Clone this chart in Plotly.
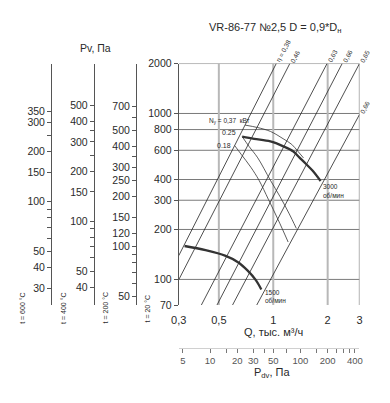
import numpy as np
import plotly.graph_objects as go

W, H = 390, 403
def px(x): return x / W
def py(y): return 1 - y / H

FONT = "Arial, Liberation Sans, sans-serif"
TXT = "#2a2a2a"

# ---------------- data ----------------
# fan curve 3000 rpm (thick)
Q_3000 = [0.673, 0.784, 0.964, 1.137, 1.287, 1.398, 1.519, 1.648, 1.828]
P_3000 = [725, 703, 678, 634, 592, 542, 496, 453, 392]
# upper thin curve (Nу = 0,37 кВт)
Q_037 = [0.699, 0.818, 0.964, 1.133, 1.266, 1.368, 1.469]
P_037 = [851, 823, 780, 705, 651, 592, 540]
# fan curve 1500 rpm (thick)
Q_1500 = [0.323, 0.422, 0.541, 0.638, 0.722, 0.801, 0.859]
P_1500 = [159, 150, 139, 127, 113, 99, 87]
# descending power curves
Q_025 = [0.673, 0.734, 0.821, 0.964, 1.091, 1.220, 1.342]
P_025 = [725, 634, 540, 396, 315, 251, 203]
Q_018 = [0.612, 0.665, 0.752, 0.834, 0.941, 1.064, 1.209]
P_018 = [640, 567, 474, 396, 303, 229, 168]

# efficiency (system) lines: low end -> high end
ETA_LABELS = ["η = 0,38", "0,46", "0,63", "0,66", "0,65", "0,66"]
ETA_Q0 = [0.30, 0.30, 0.400, 0.488, 0.595, 0.810]
ETA_P0 = [139, 99.5, 70, 70, 70, 70]
ETA_Q1 = [1.039, 1.235, 1.984, 2.406, 3.0, 3.0]
ETA_P1 = [2000, 2000, 2000, 2000, 2000, 986]

# axes
Q_RANGE = [0.3, 3]
P_RANGE = [70, 2000]
Q_TICKS = [0.3, 0.5, 1, 2, 3]
Q_TICKTEXT = ["0,3", "0,5", "1", "2", "3"]
P_TICKS = [70, 100, 200, 300, 400, 600, 800, 1000, 2000]
GRID_P = [100, 200, 300, 400, 600, 800, 1000, 2000]
GRID_Q = [0.5, 1, 2]

# temperature scales (pressure factor relative to 20 °C)
T_NAMES = ["t = 600 °C", "t = 400 °C", "t = 200 °C"]
T_FACTORS = [0.34, 0.445, 0.635]
T_MAJOR = [[350, 300, 200, 150, 100, 50, 40, 30],
           [500, 400, 300, 200, 150, 100, 50, 40],
           [700, 500, 400, 300, 250, 200, 150, 120, 100, 50]]
T_MINOR = [[250, 90, 80, 70, 60],
           [350, 250, 90, 80, 70, 60],
           [600, 350, 90, 80, 70, 60]]

# dynamic pressure scale Pdv = 50*Q^2
PDV_FACTOR = 50
PDV_LABELED = [5, 10, 20, 30, 50, 100, 200, 400]
PDV_MINOR = [15, 40, 70, 150, 250, 300, 350]

# ---------------- layout geometry (pixels) ----------------
X0, X1 = 175.7, 361.7
Y0, Y1 = 59.3, 308.3
T_AXIS_X = [44.3, 88.3, 131.7]

fig = go.Figure()

# grid
gx, gy = [], []
for p in GRID_P:
    gx += [Q_RANGE[0], Q_RANGE[1], None]; gy += [p, p, None]
fig.add_trace(go.Scatter(x=gx, y=gy, mode="lines", line=dict(color="#7a7a7a", width=1),
                         hoverinfo="skip"))
vx, vy = [], []
for q in GRID_Q:
    vx += [q, q, None]; vy += [P_RANGE[0], P_RANGE[1], None]
fig.add_trace(go.Scatter(x=vx, y=vy, mode="lines", line=dict(color="#b8b8b8", width=2),
                         hoverinfo="skip"))
fig.add_trace(go.Scatter(x=[Q_RANGE[1], Q_RANGE[1]], y=P_RANGE, mode="lines",
                         line=dict(color="#8a8a8a", width=1.3), hoverinfo="skip"))

# efficiency lines
for q0, p0, q1, p1 in zip(ETA_Q0, ETA_P0, ETA_Q1, ETA_P1):
    fig.add_trace(go.Scatter(x=[q0, q1], y=[p0, p1], mode="lines",
                             line=dict(color="#222", width=0.8), hoverinfo="skip"))

# power curves
for qs, ps in [(Q_025, P_025), (Q_018, P_018), (Q_037, P_037)]:
    fig.add_trace(go.Scatter(x=qs, y=ps, mode="lines", line=dict(color="#333", width=0.8, shape="spline"),
                             hoverinfo="skip"))
# fan curves
for qs, ps in [(Q_3000, P_3000), (Q_1500, P_1500)]:
    fig.add_trace(go.Scatter(x=qs, y=ps, mode="lines", line=dict(color="#333", width=2.3, shape="spline"),
                             hoverinfo="skip"))

# dummy traces to activate extra axes
for i in range(3):
    fig.add_trace(go.Scatter(x=[1], y=[300 * T_FACTORS[i]], xaxis="x", yaxis="y%d" % (i + 2),
                             mode="markers", marker=dict(opacity=0), hoverinfo="skip"))
fig.add_trace(go.Scatter(x=[50], y=[300], xaxis="x2", yaxis="y", mode="markers",
                         marker=dict(opacity=0), hoverinfo="skip"))

ydom = [py(Y1), py(Y0)]
axis_font = dict(family=FONT, size=10.5, color=TXT)
layout = dict(
    width=W, height=H, margin=dict(l=0, r=0, t=0, b=0),
    paper_bgcolor="white", plot_bgcolor="white", showlegend=False,
    font=dict(family=FONT, color=TXT),
    xaxis=dict(type="log", range=[np.log10(Q_RANGE[0]), np.log10(Q_RANGE[1])],
               domain=[px(X0), px(X1)], tickvals=Q_TICKS, ticktext=Q_TICKTEXT,
               showgrid=False, zeroline=False, showline=False,
               ticks="outside", ticklen=5, tickcolor="rgba(0,0,0,0)",
               tickfont=dict(family=FONT, size=11, color=TXT)),
    yaxis=dict(type="log", range=[np.log10(P_RANGE[0]), np.log10(P_RANGE[1])],
               domain=ydom, tickvals=P_TICKS, ticktext=[str(v) for v in P_TICKS],
               showgrid=False, zeroline=False, showline=True, linecolor="#555", linewidth=1,
               ticks="outside", ticklen=4, tickcolor="#555", tickfont=axis_font),
    xaxis2=dict(type="log", overlaying="x", anchor="free", position=py(352), side="bottom",
                range=[np.log10(PDV_FACTOR * Q_RANGE[0] ** 2), np.log10(PDV_FACTOR * Q_RANGE[1] ** 2)],
                tickvals=PDV_LABELED, ticktext=[str(v) for v in PDV_LABELED],
                minor=dict(tickvals=PDV_MINOR, ticks="outside", ticklen=4, tickcolor="#777",
                           showgrid=False),
                showgrid=False, zeroline=False, showline=True, linecolor="#d0d0d0",
                ticks="outside", ticklen=4, tickcolor="#777",
                tickfont=dict(family=FONT, size=9.5, color="#555")),
)
for i in range(3):
    f = T_FACTORS[i]
    layout["yaxis%d" % (i + 2)] = dict(
        type="log", overlaying="y", anchor="free", position=px(T_AXIS_X[i]), side="left",
        range=[np.log10(P_RANGE[0] * f), np.log10(P_RANGE[1] * f)],
        tickvals=T_MAJOR[i], ticktext=[str(v) for v in T_MAJOR[i]],
        minor=dict(tickvals=T_MINOR[i], ticks="outside", ticklen=4, tickcolor="#555", showgrid=False),
        showgrid=False, zeroline=False,
        showline=True, linecolor="#555", linewidth=1,
        ticks="outside", ticklen=4, tickcolor="#555", tickfont=axis_font)
fig.update_layout(**layout)

ann = []
def A(x, y, text, size=11, **kw):
    d = dict(x=px(x), y=py(y), xref="paper", yref="paper", text=text, showarrow=False,
             font=dict(family=FONT, size=size, color=TXT), xanchor="center", yanchor="middle")
    d.update(kw)
    ann.append(d)

A(275, 23, "VR-86-77 №2,5 D = 0,9*D<sub>н</sub>", size=11)
A(90.5, 43, "Pv, Па", size=10.5)
A(273, 336, "Q, тыс. м³/ч", size=11)
A(271.7, 378, "P<sub>dv</sub>, Па", size=11)
for name, xx in zip(T_NAMES + ["t = 20 °C"], [15, 57.3, 100, 143.3]):
    A(xx, 311.5, name, size=7, textangle=-90)

# curve labels
A(205, 119, "N<sub>у</sub> = 0,37  кВт", size=6.5, xanchor="left")
A(237, 130.7, "0.25", size=7, xanchor="right")
A(231.5, 144, "0.18", size=7, xanchor="right")
A(322, 186.5, "3000", size=6.5, xanchor="left")
A(322, 195, "об/мин", size=6.5, xanchor="left")
A(262.5, 295, "1500", size=6.5, xanchor="left")
A(262.5, 303.5, "об/мин", size=6.5, xanchor="left")

for lab, q1, p1 in zip(ETA_LABELS, ETA_Q1, ETA_P1):
    L = 14 if lab.startswith("η") else 8.5
    ann.append(dict(x=np.log10(q1), y=np.log10(p1), xref="x", yref="y", text=lab, showarrow=False,
                    textangle=-62, font=dict(family=FONT, size=6.5, color=TXT),
                    xanchor="center", yanchor="middle",
                    xshift=0.47 * L + 1, yshift=0.88 * L))
fig.update_layout(annotations=ann)

fig.write_html("out.html", config={"displayModeBar": False},
               post_script="document.body.style.margin='0px';")
